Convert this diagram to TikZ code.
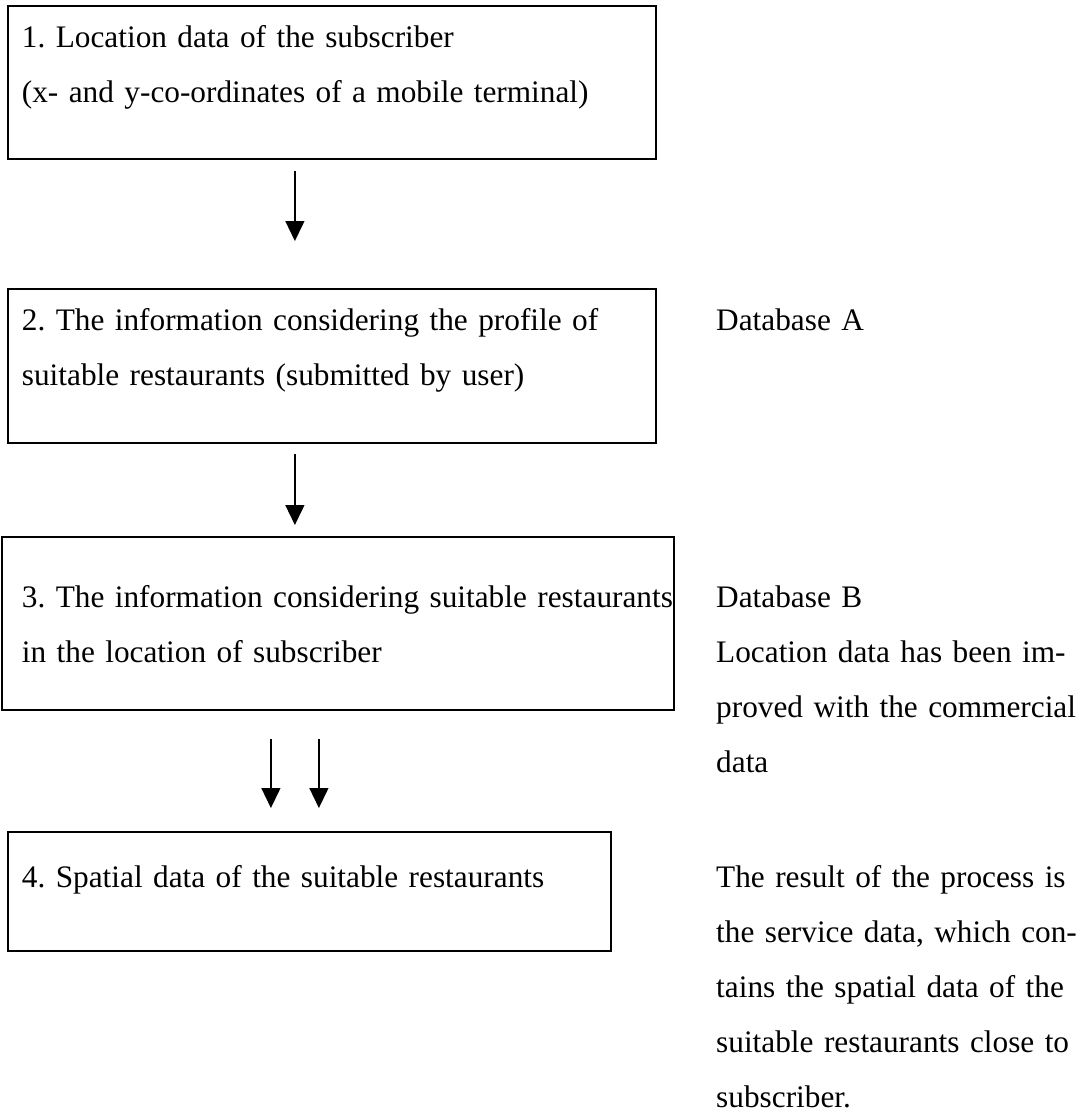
\documentclass[tikz,border=0pt]{standalone}
\usepackage{fontspec}
\setmainfont{Liberation Serif}
\usetikzlibrary{arrows.meta}

\newcommand{\jline}[1]{\makebox[356pt][s]{#1}}

\begin{document}
\frenchspacing
\begin{tikzpicture}[
  x=1pt, y=-1pt,
  font=\fontsize{31.3}{55}\selectfont,
  stage/.style={draw, line width=1.8pt, anchor=north west, align=left,
                inner ysep=0pt, inner xsep=14pt},
  flow/.style={-{Triangle[length=20pt,width=19pt]}, line width=1.4pt},
  note/.style={anchor=base west, align=left, inner sep=0pt, text width=356pt},
]
  \useasboundingbox (0,0) rectangle (1082,1114);

  \node[stage, text width=620pt, text height=42pt, text depth=111pt] (loc) at (7,5)
    {1. Location data of the subscriber\\(x- and y-co-ordinates of a mobile terminal)};
  \node[stage, text width=620pt, text height=42pt, text depth=112pt] (profile) at (7,288)
    {2. The information considering the profile of\\suitable restaurants (submitted by user)};
  \node[stage, inner xsep=20pt, text width=632pt, text height=71pt, text depth=102pt] (match) at (1,536)
    {\mbox{3. The information considering suitable restaurants}\\in the location of subscriber};
  \node[stage, text width=575pt, text height=56pt, text depth=63pt] (spatial) at (7,831)
    {4. Spatial data of the suitable restaurants};

  \draw[flow] ([xshift=-37pt,yshift=-11pt]loc.south) -- ([xshift=-37pt,yshift=47pt]profile.north);
  \draw[flow] ([xshift=-37pt,yshift=-10pt]profile.south) -- ([xshift=-43pt,yshift=11pt]match.north);
  \draw[flow] ([xshift=-67pt,yshift=-28pt]match.south) -- ([xshift=-38.5pt,yshift=23pt]spatial.north);
  \draw[flow] ([xshift=-19pt,yshift=-28pt]match.south) -- ([xshift=9.5pt,yshift=23pt]spatial.north);

  \node[note] (dbA) at (716,330) {Database A};
  \node[note] (dbB) at (716,607)
    {Database B\\\jline{Location data has been im-}\\\jline{proved with the commercial}\\data};
  \node[note] (result) at (716,887)
    {\jline{The result of the process is}\\\jline{the service data, which con-}\\
     \jline{tains the spatial data of the}\\\jline{suitable restaurants close to}\\subscriber.};
\end{tikzpicture}
\end{document}
